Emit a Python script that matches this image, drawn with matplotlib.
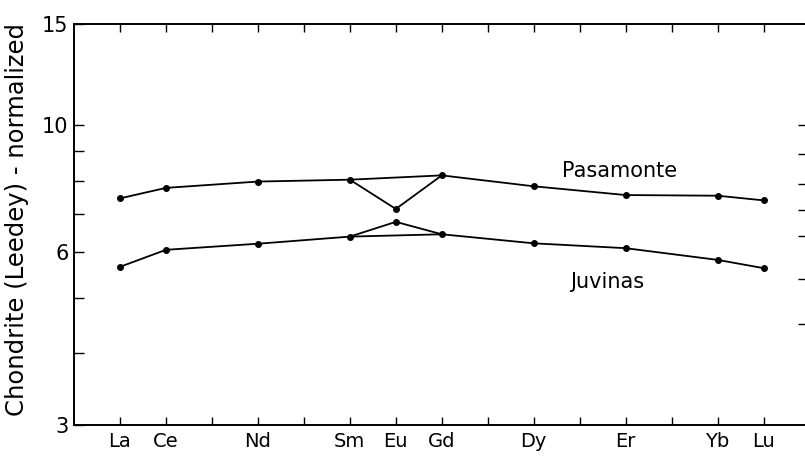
import matplotlib
matplotlib.use("Agg")
import matplotlib.pyplot as plt
from matplotlib.ticker import FixedLocator, NullFormatter, FixedFormatter

# ---- data ----
elements = ["La", "Ce", "Nd", "Sm", "Eu", "Gd", "Dy", "Er", "Yb", "Lu"]
atomic_number = [57, 58, 60, 62, 63, 64, 66, 68, 70, 71]
pasamonte = [7.45, 7.77, 7.97, 8.03, 7.14, 8.17, 7.82, 7.55, 7.53, 7.39]
juvinas = [5.66, 6.06, 6.21, 6.39, 6.78, 6.45, 6.22, 6.10, 5.82, 5.63]
all_ree_z = list(range(57, 72))
y_tick_values = [3, 6, 10, 15]
y_tick_labels = ["3", "6", "10", "15"]
y_minor_left = [4, 5, 7, 8, 9]
y_ticks_right = [10, 8.9, 7.9, 7.1, 6.4, 5.4, 4.5]
ylabel = "Chondrite (Leedey) - normalized"

W, H = 805, 466
fig = plt.figure(figsize=(W / 100, H / 100), dpi=100)
left_px, right_px, top_px, bottom_px = 74, 805, 24, 425
ax = fig.add_axes([left_px / W, 1 - bottom_px / H,
                   (right_px - left_px) / W, (bottom_px - top_px) / H])

ax.set_yscale("log")
ax.set_xlim(56, 71.9)
ax.set_ylim(3, 15)


def draw_series(vals):
    # main line skipping Eu, plus the Sm-Eu-Gd branch
    idx_main = [i for i, e in enumerate(elements) if e != "Eu"]
    ax.plot([atomic_number[i] for i in idx_main], [vals[i] for i in idx_main],
            color="black", lw=1.3, zorder=2)
    idx_eu = [elements.index(e) for e in ("Sm", "Eu", "Gd")]
    ax.plot([atomic_number[i] for i in idx_eu], [vals[i] for i in idx_eu],
            color="black", lw=1.3, zorder=2)
    ax.plot(atomic_number, vals, linestyle="none", marker="o", ms=4,
            color="black", zorder=3)


draw_series(pasamonte)
draw_series(juvinas)

font = "DejaVu Sans"
ax.text(67.87, 8.3, "Pasamonte", ha="center", va="center", fontsize=15,
        family=font)
ax.text(67.6, 5.33, "Juvinas", ha="center", va="center", fontsize=15,
        family=font)

# x ticks: labels only at measured elements, tick marks at every REE
ax.xaxis.set_major_locator(FixedLocator(atomic_number))
ax.xaxis.set_major_formatter(FixedFormatter(elements))
ax.xaxis.set_minor_locator(FixedLocator(all_ree_z))
ax.tick_params(axis="x", which="both", direction="in", length=6, width=1,
               top=True, bottom=True, labelsize=14, pad=5)

ax.yaxis.set_major_locator(FixedLocator(y_tick_values))
ax.yaxis.set_major_formatter(FixedFormatter(y_tick_labels))
ax.yaxis.set_minor_locator(FixedLocator(y_minor_left))
ax.yaxis.set_minor_formatter(NullFormatter())
ax.tick_params(axis="y", which="both", direction="in", length=7, width=1,
               left=True, right=False, labelsize=15, pad=4)

# right-hand tick marks (no spine visible in the scan)
ax2 = ax.twinx()
ax2.set_yscale("log")
ax2.set_ylim(3, 15)
ax2.yaxis.set_major_locator(FixedLocator(y_ticks_right))
ax2.yaxis.set_minor_locator(FixedLocator([]))
ax2.yaxis.set_major_formatter(NullFormatter())
ax2.yaxis.set_minor_formatter(NullFormatter())
ax2.tick_params(axis="y", which="both", direction="in", length=5, width=1,
                right=True, left=False)
for s in ax2.spines.values():
    s.set_visible(False)

ax.spines["right"].set_visible(False)
for s in ("left", "top", "bottom"):
    ax.spines[s].set_linewidth(1.4)

for lbl in ax.get_xticklabels() + ax.get_yticklabels():
    lbl.set_family(font)

fig.text(17 / W, 1 - 220 / H, ylabel, rotation=90, ha="center", va="center",
         fontsize=17.5, family=font)

fig.savefig("out.png", dpi=100)
